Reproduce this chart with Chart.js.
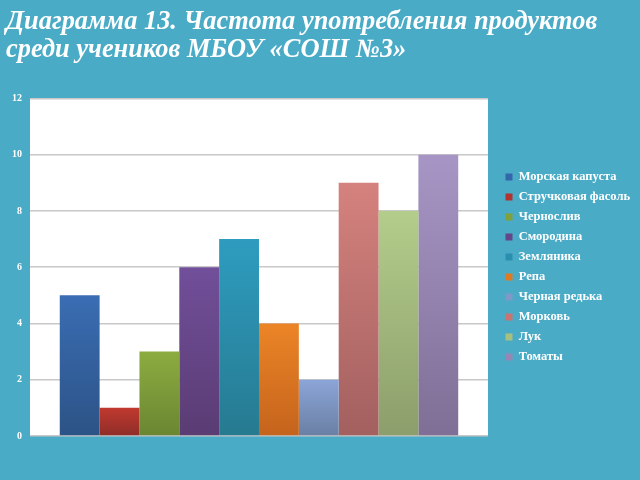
<!DOCTYPE html>
<html>
<head>
<meta charset="utf-8">
<script src="https://cdn.jsdelivr.net/npm/chart.js"></script>
<style>
  html, body { margin: 0; padding: 0; background: #4aabc6; }
  #wrap { width: 640px; height: 480px; position: relative; }
</style>
</head>
<body>
<div id="wrap"><canvas id="chart"></canvas></div>
<script>
// данные диаграммы
const products = ["Морская капуста", "Стручковая фасоль", "Чернослив", "Смородина", "Земляника",
                  "Репа", "Черная редька", "Морковь", "Лук", "Томаты"];
const frequency = [5, 1, 3, 6, 7, 4, 2, 9, 8, 10];
const topColors = ["#3a6db3", "#c0392f", "#8cac40", "#714f9a", "#2e9cbf",
                   "#ec8527", "#8ba5d8", "#d5827e", "#b3cd8b", "#a796c5"];
const bottomColors = ["#2c5386", "#8e2d28", "#6b8632", "#5a3c73", "#267a90",
                      "#c4631c", "#6a7fa3", "#a2605f", "#8c9e6b", "#7f6f96"];
const legendColors = ["#3366aa", "#b03530", "#80a03c", "#66468a", "#2a8fae",
                      "#e07a22", "#7f98c8", "#c87470", "#a6c07e", "#9686b4"];

// белый фон области построения
const plotBg = {
  id: "plotBg",
  beforeDraw(chart) {
    const { ctx, chartArea: a } = chart;
    ctx.save();
    ctx.fillStyle = "#ffffff";
    ctx.fillRect(a.left, a.top, a.right - a.left, a.bottom - a.top);
    ctx.restore();
  }
};

// сдвиг легенды вправо, чтобы между графиком и легендой был зазор
const legendShift = {
  id: "legendShift",
  afterLayout(chart) {
    const lg = chart.legend;
    if (!lg) return;
    lg.left += 10;
    lg.right += 10;
  }
};

function barGradient(i) {
  return (context) => {
    const chart = context.chart;
    if (!chart.chartArea) return topColors[i];
    const y = chart.scales.y;
    const top = y.getPixelForValue(frequency[i]);
    const bottom = y.getPixelForValue(0);
    const g = chart.ctx.createLinearGradient(0, top, 0, bottom);
    g.addColorStop(0, topColors[i]);
    g.addColorStop(1, bottomColors[i]);
    return g;
  };
}

const datasets = products.map((name, i) => ({
  label: name,
  data: [frequency[i]],
  backgroundColor: barGradient(i),
  borderWidth: 0
}));

new Chart(document.getElementById("chart"), {
  type: "bar",
  data: { labels: [""], datasets: datasets },
  plugins: [plotBg, legendShift],
  options: {
    responsive: true,
    maintainAspectRatio: false,
    animation: false,
    categoryPercentage: 0.87,
    barPercentage: 1.0,
    layout: { padding: { left: 6, right: 10, top: 4, bottom: 44 } },
    scales: {
      x: { display: false },
      y: {
        min: 0,
        max: 12,
        afterFit(scale) { scale.width = 24; },
        ticks: {
          stepSize: 2,
          color: "#ffffff",
          padding: 8,
          font: { family: "Liberation Serif", weight: "bold", size: 10 }
        },
        grid: { color: "#c8c8c8", lineWidth: 1.5, drawTicks: false },
        border: { display: false }
      }
    },
    plugins: {
      title: {
        display: true,
        align: "start",
        text: ["Диаграмма 13. Частота употребления продуктов", "среди учеников МБОУ «СОШ №3»"],
        color: "#ffffff",
        font: { family: "Liberation Serif", weight: "bold", style: "italic", size: 26.4, lineHeight: 1.03 },
        padding: { top: 5, bottom: 35 }
      },
      legend: {
        position: "right",
        // пустой заголовок сдвигает пункты легенды вниз, к центру графика
        title: { display: true, text: " ", font: { size: 1, lineHeight: 1 }, padding: { top: 0, bottom: 93 } },
        labels: {
          color: "#ffffff",
          boxWidth: 7,
          boxHeight: 7,
          padding: 7.5,
          font: { family: "Liberation Serif", weight: "bold", size: 12.5 },
          generateLabels(chart) {
            const items = Chart.defaults.plugins.legend.labels.generateLabels(chart);
            items.forEach((it, i) => {
              it.fillStyle = legendColors[i];
              it.strokeStyle = legendColors[i];
              it.lineWidth = 0;
            });
            return items;
          }
        }
      },
      tooltip: { enabled: false }
    }
  }
});
</script>
</body>
</html>
